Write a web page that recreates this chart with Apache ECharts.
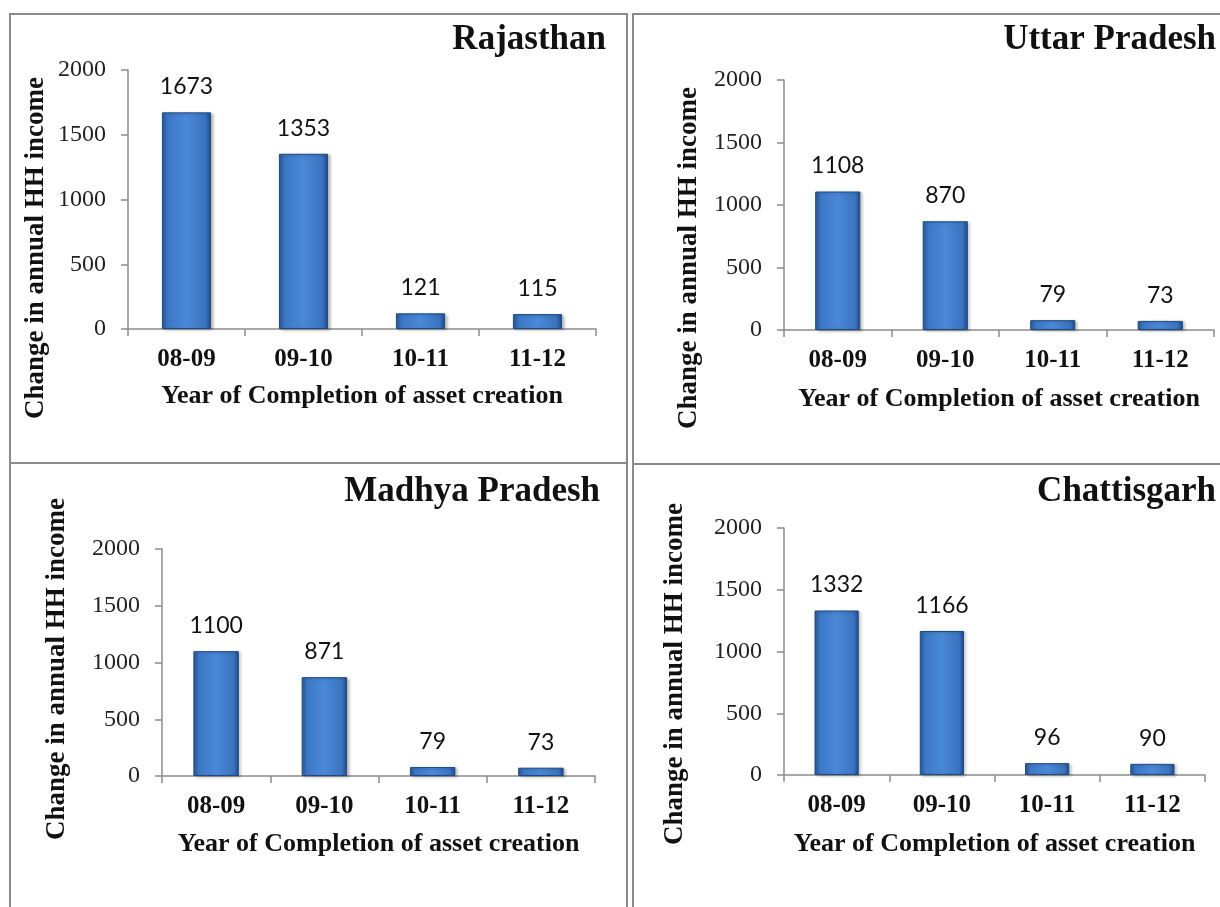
<!DOCTYPE html>
<html>
<head>
<meta charset="utf-8">
<script src="https://cdn.jsdelivr.net/npm/echarts@6/dist/echarts.min.js"></script>
<style>
  html, body { margin: 0; padding: 0; background: #fff; }
  #main { width: 1220px; height: 907px; }
</style>
</head>
<body>
<div id="main"></div>
<script>
// data
const years = ['08-09', '09-10', '10-11', '11-12']
const states = ['Rajasthan', 'Uttar Pradesh', 'Madhya Pradesh', 'Chattisgarh']
const rajasthan = [1673, 1353, 121, 115]
const uttarPradesh = [1108, 870, 79, 73]
const madhyaPradesh = [1100, 871, 79, 73]
const chattisgarh = [1332, 1166, 96, 90]
const yTicks = [0, 500, 1000, 1500, 2000]
const yName = 'Change in annual HH income'
const xName = 'Year of Completion of asset creation'

const values = [rajasthan, uttarPradesh, madhyaPradesh, chattisgarh]

// panel layout: grid box, title spot, axis name tweaks
const panels = [
  { grid: { left: 128, top: 70, width: 468, height: 259 }, title: { right: 611, top: 17 }, yGap: 78, yShift: 97, xGap: 54 },
  { grid: { left: 784, top: 80, width: 430, height: 250 }, title: { right: 1, top: 17 }, yGap: 81, yShift: 106, xGap: 56 },
  { grid: { left: 162, top: 549, width: 433, height: 227 }, title: { right: 617, top: 469 }, yGap: 91, yShift: 13, xGap: 55 },
  { grid: { left: 784, top: 528, width: 421, height: 247 }, title: { right: 1, top: 469 }, yGap: 95, yShift: 45, xGap: 56 }
]

const serif = '"Liberation Serif", "DejaVu Serif", serif'
const axisGray = '#8c8c8c'

const barColor = {
  type: 'linear', x: 0, y: 0, x2: 1, y2: 0,
  colorStops: [
    { offset: 0, color: '#2c5c9c' },
    { offset: 0.12, color: '#3d78c6' },
    { offset: 0.5, color: '#4a88d8' },
    { offset: 0.88, color: '#3b74c0' },
    { offset: 1, color: '#1f4a86' }
  ]
}

const dom = echarts.init(document.getElementById('main'))

const option = {
  backgroundColor: '#fff',
  animation: false,
  title: panels.map((p, i) => Object.assign({
    text: states[i],
    padding: [5, 3, 5, 3],
    textStyle: { fontFamily: serif, fontWeight: 'bold', fontSize: 35, color: '#111' }
  }, p.title)),
  grid: panels.map(p => Object.assign({ containLabel: false }, p.grid)),
  xAxis: panels.map((p, i) => ({
    type: 'category',
    gridIndex: i,
    data: years,
    name: xName,
    nameLocation: 'middle',
    nameGap: p.xGap,
    nameTextStyle: { fontFamily: serif, fontWeight: 'bold', fontSize: 26, color: '#111' },
    axisLine: { lineStyle: { color: axisGray, width: 1.5 } },
    axisTick: { show: true, length: 7, lineStyle: { color: axisGray, width: 1.5 } },
    axisLabel: { margin: 18, fontFamily: serif, fontWeight: 'bold', fontSize: 25, color: '#111' }
  })),
  yAxis: panels.map((p, i) => ({
    type: 'value',
    gridIndex: i,
    min: yTicks[0],
    max: yTicks[yTicks.length - 1],
    interval: 500,
    name: yName,
    nameLocation: 'middle',
    nameGap: p.yGap,
    nameTextStyle: {
      fontFamily: serif, fontWeight: 'bold', fontSize: 27, color: '#111',
      padding: [0, p.yShift, 0, 0]
    },
    splitLine: { show: false },
    axisLine: { show: true, lineStyle: { color: axisGray, width: 1.5 } },
    axisTick: { show: true, length: 7, lineStyle: { color: axisGray, width: 1.5 } },
    axisLabel: {
      margin: 22, fontFamily: serif, fontSize: 24, color: '#222',
      formatter: v => String(v)
    }
  })),
  series: values.map((v, i) => ({
    type: 'bar',
    name: states[i],
    xAxisIndex: i,
    yAxisIndex: i,
    data: v,
    barWidth: '42%',
    itemStyle: {
      color: barColor,
      borderColor: '#1e4a82',
      borderWidth: 1,
      shadowColor: 'rgba(0,0,0,0.25)',
      shadowBlur: 3,
      shadowOffsetX: 2,
      shadowOffsetY: 1
    },
    label: {
      show: true,
      position: 'top',
      distance: 14,
      fontFamily: 'Lato, "Open Sans", sans-serif',
      fontSize: 23,
      color: '#111'
    }
  })),
  graphic: [
    { type: 'rect', shape: { x: 10, y: 14, width: 617, height: 449 }, style: { fill: 'none', stroke: '#8a8a8a', lineWidth: 2 } },
    { type: 'rect', shape: { x: 10, y: 463, width: 617, height: 460 }, style: { fill: 'none', stroke: '#8a8a8a', lineWidth: 2 } },
    { type: 'rect', shape: { x: 633, y: 14, width: 600, height: 450 }, style: { fill: 'none', stroke: '#8a8a8a', lineWidth: 2 } },
    { type: 'rect', shape: { x: 633, y: 464, width: 600, height: 460 }, style: { fill: 'none', stroke: '#8a8a8a', lineWidth: 2 } }
  ]
}

dom.setOption(option)
</script>
</body>
</html>
